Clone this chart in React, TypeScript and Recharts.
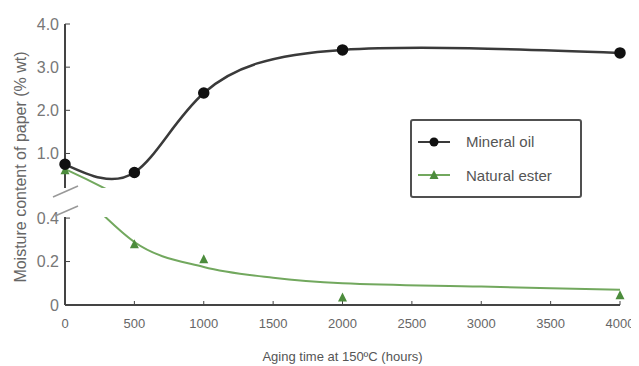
import React from "react"
import { ComposedChart, Legend, Line, Scatter, XAxis, YAxis } from "recharts"

const hourTicks = [0, 500, 1000, 1500, 2000, 2500, 3000, 3500, 4000]
const upperTicks = [1, 2, 3, 4]
const lowerTicks = [0, 0.2, 0.4]

const mineralHours = [0, 500, 1000, 2000, 4000]
const mineralOil = [0.75, 0.56, 2.4, 3.4, 3.33]

const esterHours = [0, 500, 1000, 2000, 4000]
const naturalEster = [0.61, 0.28, 0.21, 0.035, 0.045]

// ester trend line, one piece for each side of the axis break
const esterFitUpperHours = [0, 150, 300]
const esterFitUpper = [0.64, 0.41, 0.17]
const esterFitLowerHours = [250, 500, 1000, 1500, 2000, 3000, 4000]
const esterFitLower = [0.43, 0.29, 0.175, 0.125, 0.1, 0.085, 0.07]

const BREAK = 0.45

const font = "'Liberation Sans', Arial, sans-serif"
const black = "#3a3a3a"
const green = "#72a85e"
const greenDark = "#4c8c3c"

const mineralData = mineralHours.map((h, i) => ({ h, v: mineralOil[i] }))
const esterData = esterHours.map((h, i) => ({ h, v: naturalEster[i] }))
const esterUpper = esterData.filter(d => d.v >= BREAK)
const esterLower = esterData.filter(d => d.v < BREAK)
const fitUpper = esterFitUpperHours.map((h, i) => ({ h, v: esterFitUpper[i] }))
const fitLower = esterFitLowerHours.map((h, i) => ({ h, v: esterFitLower[i] }))

const Triangle = (props: any) => {
  const { cx, cy } = props
  if (cx == null || cy == null) return null
  return <polygon points={`${cx},${cy - 5} ${cx - 4.5},${cy + 4} ${cx + 4.5},${cy + 4}`} fill={greenDark} />
}

const legendItems = [
  { name: "Mineral oil", color: black, marker: "circle" },
  { name: "Natural ester", color: green, marker: "triangle" },
]

const LegendBox = () => (
  <div style={{
    width: 172, height: 79, boxSizing: "border-box", border: "2px solid #505050", borderRadius: 3,
    background: "#fff", fontFamily: font, fontSize: 15, color: "#555",
    display: "flex", flexDirection: "column", justifyContent: "space-around", padding: "4px 0",
  }}>
    {legendItems.map(it => (
      <div key={it.name} style={{ display: "flex", alignItems: "center" }}>
        <svg width={48} height={14} style={{ marginLeft: 6 }}>
          <line x1={0} y1={7} x2={32} y2={7} stroke={it.color} strokeWidth={2} />
          {it.marker === "circle"
            ? <circle cx={16} cy={7} r={4.5} fill="#111" />
            : <polygon points="16,2 11.5,11 20.5,11" fill={greenDark} />}
        </svg>
        <span>{it.name}</span>
      </div>
    ))}
  </div>
)

const yTick = { fontSize: 16, fill: "#777", fontFamily: font }
const axisLine = { stroke: "#444", strokeWidth: 2 }

const App = () => {
  return (
    <div style={{ position: "relative", width: 631, height: 358 }}>
      <div style={{ position: "absolute", left: -8, top: -8, width: 639, height: 366, background: "#fff" }}>
        <div style={{ position: "absolute", left: 0, top: 0 }}>
          <ComposedChart width={639} height={200} margin={{ top: 24, right: 19, bottom: 12, left: 0 }}>
            <XAxis type="number" dataKey="h" domain={[0, 4000]} ticks={hourTicks} hide />
            <YAxis type="number" dataKey="v" domain={[0.2, 4]} ticks={upperTicks} allowDataOverflow width={65}
              tickFormatter={(v: number) => v.toFixed(1)} tick={yTick} axisLine={axisLine}
              tickLine={{ stroke: "#444" }} tickSize={-5} tickMargin={11} />
            <Legend layout="vertical" align="center" verticalAlign="middle"
              wrapperStyle={{ left: 410, top: 119, width: 172, height: 79 }} content={() => <LegendBox />} />
            <Line data={fitUpper} dataKey="v" type="monotone" stroke={green} strokeWidth={2} dot={false}
              isAnimationActive={false} legendType="none" />
            <Line data={mineralData} dataKey="v" name="Mineral oil" type="natural" stroke={black} strokeWidth={2.5}
              dot={{ r: 4.5, fill: "#111", stroke: "#111" }} isAnimationActive={false} />
            <Scatter data={esterUpper} dataKey="v" name="Natural ester" shape={Triangle} isAnimationActive={false} />
          </ComposedChart>
        </div>
        <div style={{ position: "absolute", left: 0, top: 200 }}>
          <ComposedChart width={639} height={166} margin={{ top: 17, right: 19, bottom: 0, left: 0 }}>
            <XAxis type="number" dataKey="h" domain={[0, 4000]} ticks={hourTicks} height={61}
              tick={{ fontSize: 13, fill: "#666", fontFamily: font }} axisLine={axisLine}
              tickLine={{ stroke: "#444" }} tickSize={-4} tickMargin={18}
              label={{ value: "Aging time at 150ºC (hours)", position: "insideBottom", offset: 5, fontSize: 13, fill: "#555", fontFamily: font }} />
            <YAxis type="number" dataKey="v" domain={[0, 0.405]} ticks={lowerTicks} allowDataOverflow width={65}
              tickFormatter={(v: number) => (v === 0 ? "0" : v.toFixed(1))} tick={yTick} axisLine={axisLine}
              tickLine={{ stroke: "#444" }} tickSize={-5} tickMargin={11} />
            <Line data={fitLower} dataKey="v" type="monotone" stroke={green} strokeWidth={2} dot={false}
              isAnimationActive={false} />
            <Scatter data={esterLower} dataKey="v" shape={Triangle} isAnimationActive={false} />
          </ComposedChart>
        </div>
        <svg width={639} height={366} style={{ position: "absolute", left: 0, top: 0, pointerEvents: "none" }}>
          <line x1={53} y1={197} x2={78} y2={186} stroke="#999" strokeWidth={1.5} />
          <line x1={55} y1={216} x2={78} y2={206} stroke="#999" strokeWidth={1.5} />
          <text x={22} y={167} transform="rotate(-90 22 167)" textAnchor="middle" dominantBaseline="middle"
            fontSize={16} fill="#666" fontFamily={font}>Moisture content of paper (% wt)</text>
        </svg>
      </div>
    </div>
  )
}

export default App
